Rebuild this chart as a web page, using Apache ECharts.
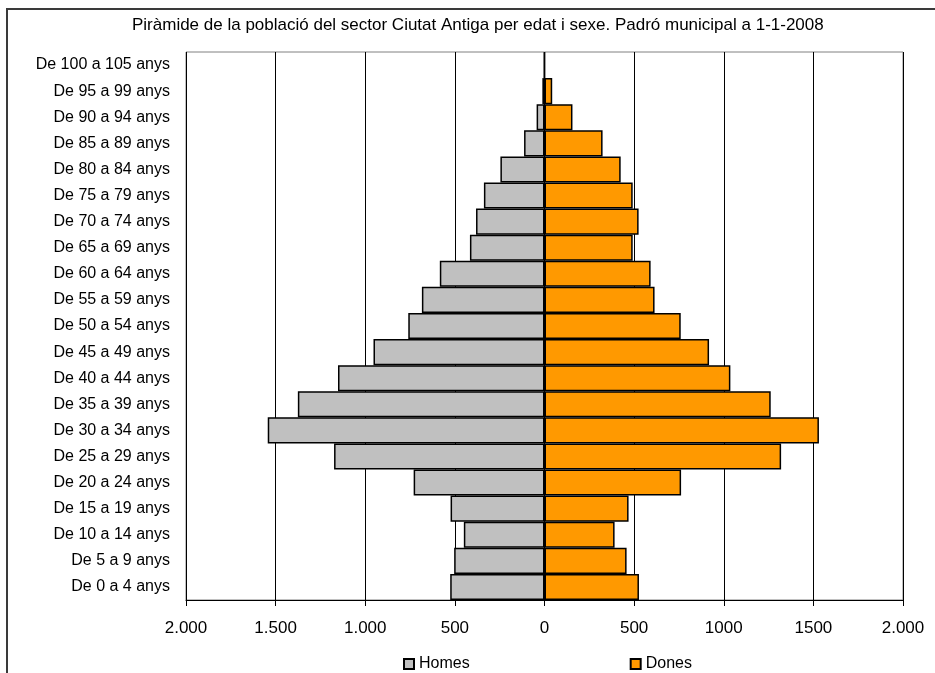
<!DOCTYPE html>
<html>
<head>
<meta charset="utf-8">
<script src="https://cdn.jsdelivr.net/npm/echarts@6/dist/echarts.min.js"></script>
<style>
html,body{margin:0;padding:0;background:#fff;}
#frame{position:absolute;left:6px;top:8px;width:1000px;height:1000px;border-left:2px solid #3a3a3a;border-top:2px solid #3a3a3a;box-sizing:border-box;}
#chart{position:absolute;left:0;top:0;width:935px;height:673px;}
</style>
</head>
<body>
<div id="frame"></div>
<div id="chart"></div>
<script>
const titleText = "Piràmide de la població del sector Ciutat Antiga per edat i sexe. Padró municipal a 1-1-2008";
const categories = ["De 0 a 4 anys","De 5 a 9 anys","De 10 a 14 anys","De 15 a 19 anys","De 20 a 24 anys","De 25 a 29 anys","De 30 a 34 anys","De 35 a 39 anys","De 40 a 44 anys","De 45 a 49 anys","De 50 a 54 anys","De 55 a 59 anys","De 60 a 64 anys","De 65 a 69 anys","De 70 a 74 anys","De 75 a 79 anys","De 80 a 84 anys","De 85 a 89 anys","De 90 a 94 anys","De 95 a 99 anys","De 100 a 105 anys"];
const homes = [526,504,450,524,730,1174,1544,1376,1152,954,760,684,584,416,382,338,246,114,44,12,2];
const dones = [527,458,391,469,762,1320,1531,1262,1037,918,760,614,592,492,525,492,425,324,156,43,1];
const tickLabels = ["2.000","1.500","1.000","500","0","500","1000","1500","2.000"];
const seriesNames = ["Homes","Dones"];

const FONT = "'Liberation Sans', Arial, sans-serif";
const chart = echarts.init(document.getElementById('chart'), null, {renderer:'canvas'});
const axisMin = -2000, axisMax = 2000, axisStep = 500;
chart.setOption({
  animation:false,
  textStyle:{fontFamily:FONT},
  title:{
    text:titleText, left:132, top:17, padding:0,
    textStyle:{fontFamily:FONT, fontSize:17, fontWeight:'normal', color:'#000'}
  },
  legend:{
    data:seriesNames, left:398, top:651, padding:5, itemGap:160, itemWidth:10, itemHeight:10, icon:'rect',
    textStyle:{fontFamily:FONT, fontSize:16, color:'#000'}
  },
  grid:{left:186, right:32, top:52, bottom:73, show:true, borderColor:'#808080', borderWidth:1, backgroundColor:'transparent'},
  xAxis:{
    type:'value', min:axisMin, max:axisMax, interval:axisStep,
    axisLine:{show:true, onZero:false, lineStyle:{color:'#000', width:1}},
    axisTick:{show:true, length:6, lineStyle:{color:'#000'}},
    axisLabel:{margin:20, fontFamily:FONT, fontSize:17, color:'#000',
      formatter:function(v){ return tickLabels[Math.round((v-axisMin)/axisStep)]; }},
    splitLine:{show:true, lineStyle:{color:'#000', width:1}}
  },
  yAxis:{
    type:'category', data:categories,
    axisLine:{show:false}, axisTick:{show:false},
    axisLabel:{margin:16, fontFamily:FONT, fontSize:16, color:'#000'},
    splitLine:{show:false}
  },
  series:[
    {name:seriesNames[0], type:'bar', data:homes.map(v=>-v), barCategoryGap:'0%', barGap:'-100%',
     itemStyle:{color:'#C0C0C0', borderColor:'#000', borderWidth:1.5}},
    {name:seriesNames[1], type:'bar', data:dones, barCategoryGap:'0%', barGap:'-100%',
     itemStyle:{color:'#FF9900', borderColor:'#000', borderWidth:1.5}}
  ]
});
</script>
</body>
</html>
